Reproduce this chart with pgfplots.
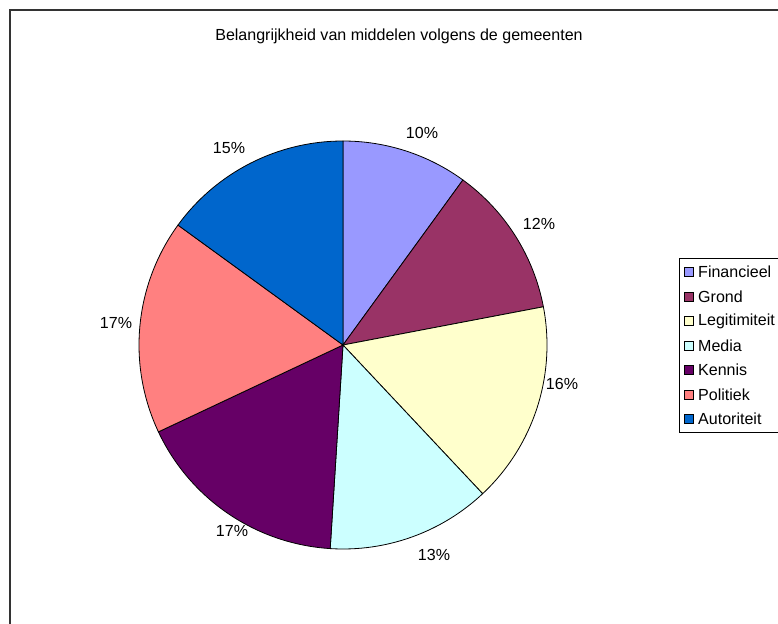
\documentclass[border=0pt]{standalone}
\usepackage{pgfplots}
\pgfplotsset{compat=1.18}
\usepackage{pgfplotstable}
\usepackage{fontspec}
\setmainfont{Liberation Sans}

\definecolor{cFin}{HTML}{9999FF}
\definecolor{cGro}{HTML}{993366}
\definecolor{cLeg}{HTML}{FFFFCC}
\definecolor{cMed}{HTML}{CCFFFF}
\definecolor{cKen}{HTML}{660066}
\definecolor{cPol}{HTML}{FF8080}
\definecolor{cAut}{HTML}{0066CC}

% share in percent, colour, label position (x, y from the top)
\pgfplotstableread{
name         value col  lx  ly
Financieel   10    cFin 422 133
Grond        12    cGro 539 224
Legitimiteit 16    cLeg 562 384
Media        13    cMed 434 555
Kennis       17    cKen 232 531
Politiek     17    cPol 116 323
Autoriteit   15    cAut 229 148
}\piedata

\begin{document}
\begin{tikzpicture}
\fontsize{16.1}{19}\selectfont
\begin{axis}[
  width=778bp, height=624bp, scale only axis,
  xmin=0, xmax=778, ymin=0, ymax=624, y dir=reverse,
  hide axis, clip=false,
]
 % chart area frame (runs off the right and bottom edges)
 \draw[line width=1.6bp, draw=black!80] (axis cs:800,10) -- (axis cs:9.8,10) -- (axis cs:9.8,700);
 \node at (axis cs:399,36) {Belangrijkheid van middelen volgens de gemeenten};

 \def\angA{90}
 \pgfplotsforeachungrouped \i in {0,...,6}{
  \pgfplotstablegetelem{\i}{value}\of\piedata \let\val\pgfplotsretval
  \pgfplotstablegetelem{\i}{col}\of\piedata \let\col\pgfplotsretval
  \pgfplotstablegetelem{\i}{lx}\of\piedata \let\lx\pgfplotsretval
  \pgfplotstablegetelem{\i}{ly}\of\piedata \let\ly\pgfplotsretval
  \pgfplotstablegetelem{\i}{name}\of\piedata \let\nm\pgfplotsretval
  \pgfmathsetmacro\angB{\angA-3.6*\val}
  \pgfmathsetmacro\legy{272+24.5*\i}
  \edef\tmp{%
   \noexpand\filldraw[fill=\col, draw=black, line width=0.8bp]
     (axis cs:343,345) -- ++(\angA:204bp)
     arc[start angle=\angA, end angle=\angB, radius=204bp] -- cycle;
   \noexpand\node at (axis cs:\lx,\ly) {\val\noexpand\%};
   \noexpand\filldraw[fill=\col, draw=black, line width=0.6bp]
     (axis cs:684.5,\legy-4.5) rectangle (axis cs:693.5,\legy+4.5);
   \noexpand\node[anchor=west, inner sep=0pt] at (axis cs:698,\legy) {\nm};
  }
  \tmp
  \let\angA\angB
 }
 % legend frame
 \draw[line width=0.8bp] (axis cs:800,258) -- (axis cs:679.5,258) -- (axis cs:679.5,432) -- (axis cs:800,432);
\end{axis}
\pgfresetboundingbox
\useasboundingbox (current axis.south west) rectangle (current axis.north east);
\end{tikzpicture}
\end{document}
